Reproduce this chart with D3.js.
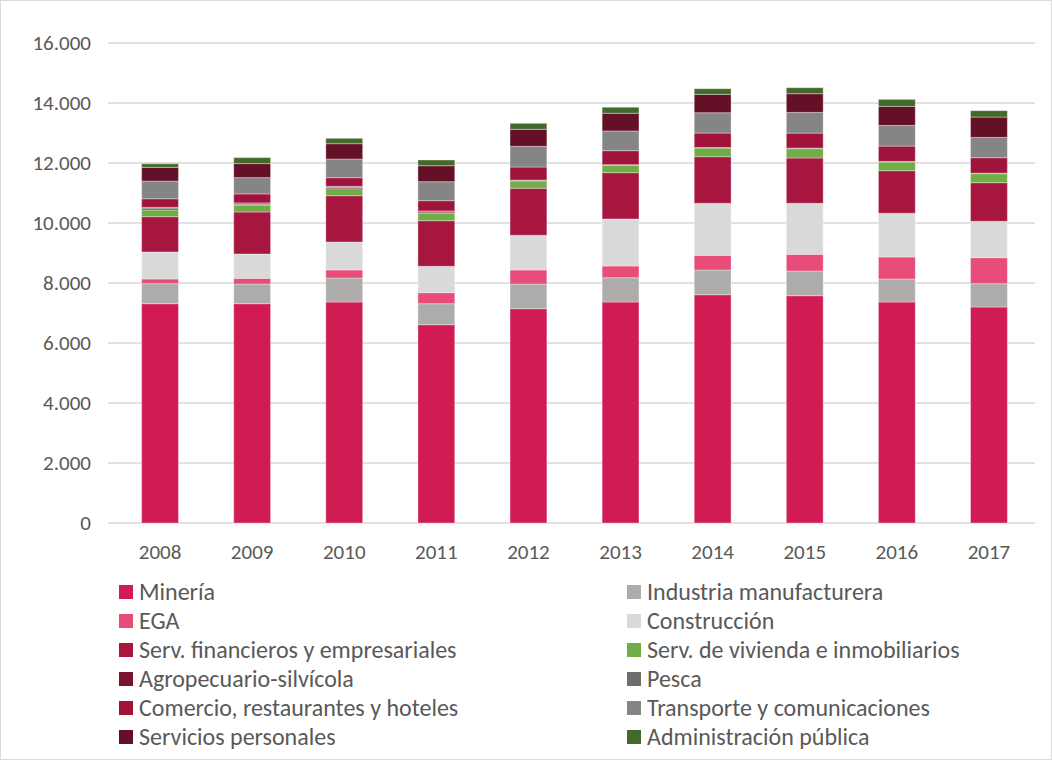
<!DOCTYPE html>
<html><head><meta charset="utf-8">
<script src="https://cdn.jsdelivr.net/npm/d3@7"></script>
<style>
body{margin:0;background:#fff;}
text{font-family:Carlito, Lato, sans-serif;fill:#595959;}
</style></head>
<body>
<svg id="chart" width="1052" height="760"></svg>
<script>
const years = ["2008","2009","2010","2011","2012","2013","2014","2015","2016","2017"];
const seriesNames = ["Minería","Industria manufacturera","EGA","Construcción","Serv. financieros y empresariales","Serv. de vivienda e inmobiliarios","Agropecuario-silvícola","Pesca","Comercio, restaurantes y hoteles","Transporte y comunicaciones","Servicios personales","Administración pública"];
const mineria      = [7310,7310,7367,6610,7143,7367,7610,7577,7367,7200];
const industria    = [667,657,800,700,823,810,823,823,767,777];
const ega          = [157,190,267,367,467,390,490,557,733,867];
const construccion = [900,810,933,880,1157,1567,1733,1700,1457,1213];
const servFin      = [1177,1400,1543,1520,1567,1543,1553,1510,1420,1287];
const vivienda     = [223,223,233,247,243,247,290,310,290,300];
const agro         = [40,30,40,40,20,10,10,10,10,10];
const pesca        = [47,50,40,37,13,10,10,10,10,10];
const comercio     = [287,300,287,343,433,467,480,500,510,513];
const transporte   = [590,543,623,633,690,657,677,690,690,677];
const servPers     = [457,467,510,533,567,590,610,623,633,677];
const admin        = [120,200,180,190,200,200,190,200,233,213];
const yTicks = [0,2000,4000,6000,8000,10000,12000,14000,16000];
const colors = ["#D01C52","#ADACAA","#E84C79","#D9D9D9","#A6163F","#70AD47","#7B1230","#6E6D6B","#A0143C","#858585","#641026","#436A2B"];

const seriesVals = [mineria,industria,ega,construccion,servFin,vivienda,agro,pesca,comercio,transporte,servPers,admin];
const rows = years.map((y,i)=>{const r={year:y}; seriesNames.forEach((n,k)=>r[n]=seriesVals[k][i]); return r;});
const stack = d3.stack().keys(seriesNames)(rows);

const svg = d3.select("#chart");
svg.append("rect").attr("x",0.5).attr("y",0.5).attr("width",1051).attr("height",759).attr("fill","#fff").attr("stroke","#d9d9d9");

const x = d3.scaleBand().domain(years).range([114,1035]).paddingInner(0.6).paddingOuter(0.3);
const y = d3.scaleLinear().domain([0,16000]).range([523,43]);

const fmt = d => d3.format(",")(d).replace(/,/g,".");
// gridlines
svg.append("g").selectAll("line").data(yTicks).join("line")
  .attr("x1",108).attr("x2",1035).attr("y1",d=>y(d)).attr("y2",d=>y(d))
  .attr("stroke","#d9d9d9").attr("stroke-width",1.5);
// y axis labels
const yAxis = svg.append("g").attr("transform","translate(91,0)")
  .call(d3.axisLeft(y).tickValues(yTicks).tickFormat(fmt).tickSize(0).tickPadding(0));
yAxis.select(".domain").remove();
yAxis.selectAll("text").style("font-size","21px").attr("fill","#595959");

// bars
svg.append("g").selectAll("g").data(stack).join("g")
  .attr("fill",(d,i)=>colors[i])
  .selectAll("rect").data(d=>d).join("rect")
  .attr("x",d=>x(d.data.year)).attr("width",x.bandwidth())
  .attr("y",d=>y(d[1])).attr("height",d=>y(d[0])-y(d[1]))
  .attr("stroke","#ffffff").attr("stroke-opacity",0.35).attr("stroke-width",1);

// x axis labels
const xAxis = svg.append("g").attr("transform","translate(0,523)")
  .call(d3.axisBottom(x).tickSize(0).tickPadding(21));
xAxis.select(".domain").remove();
xAxis.selectAll("text").style("font-size","21px").attr("fill","#595959");

// legend
const leg = svg.append("g");
seriesNames.forEach((n,i)=>{
  const col = i%2, row = Math.floor(i/2);
  const gx = col===0 ? 119 : 627;
  const gy = 592 + row*29;
  leg.append("rect").attr("x",gx).attr("y",gy-7).attr("width",14).attr("height",14).attr("fill",colors[i]);
  leg.append("text").attr("x",gx+20).attr("y",gy).attr("dy","0.35em").style("font-size","24px").attr("fill","#7a7a7a").text(n);
});
</script>
</body></html>
